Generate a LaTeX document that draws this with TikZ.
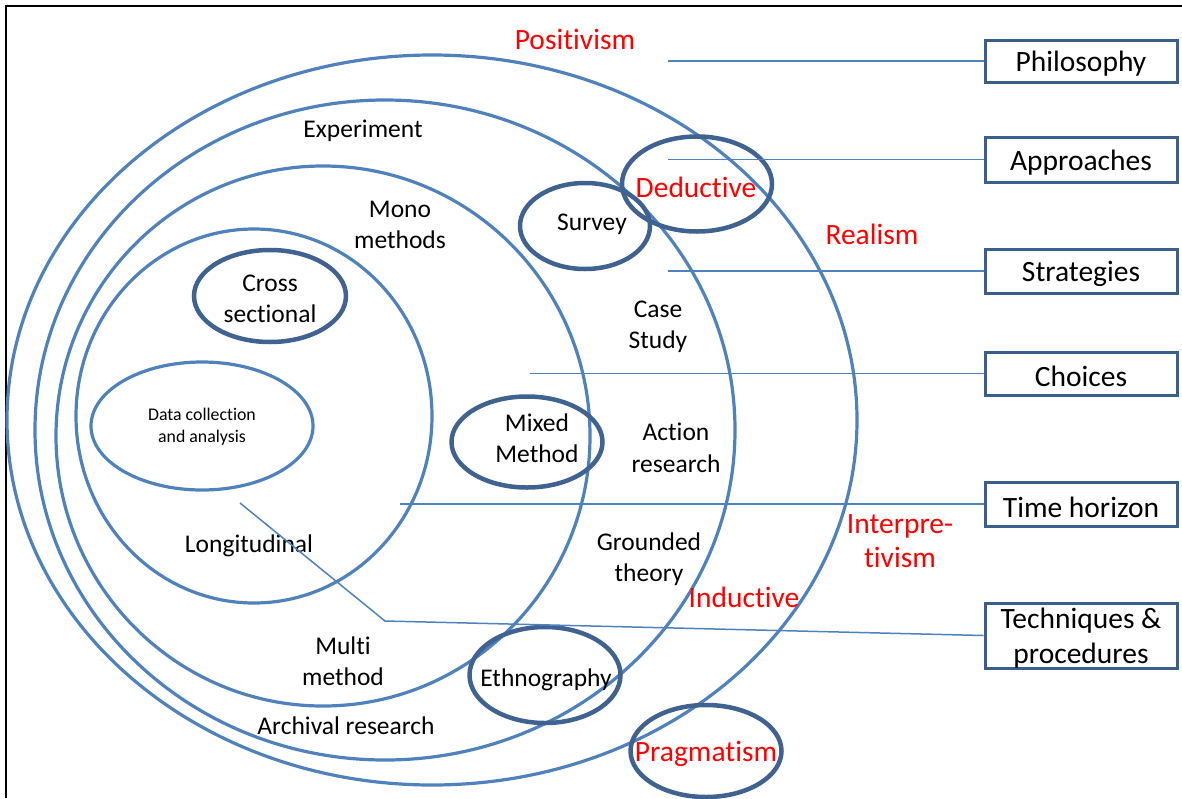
\documentclass[tikz,border=0pt]{standalone}
\usepackage{fontspec}
\setmainfont{Carlito}[Ligatures={NoCommon}]
\usetikzlibrary{shapes.geometric}
\definecolor{ringblue}{HTML}{4F81BD}
\definecolor{ovalblue}{HTML}{3F6291}
\definecolor{boxblue}{HTML}{3A5F8C}
\begin{document}
\begin{tikzpicture}[x=1pt,y=-1pt,
  ring/.style={ellipse, draw=ringblue, line width=3.2pt, inner sep=0pt},
  oval/.style={ellipse, draw=ovalblue, line width=4.5pt, inner sep=0pt},
  lbl/.style={align=center, inner sep=0pt, yshift=-2pt, font=\fontsize{25.5}{31.5}\selectfont},
  small/.style={align=center, inner sep=0pt, yshift=-1pt, font=\fontsize{17.8}{22}\selectfont},
  redlbl/.style={align=center, inner sep=0pt, yshift=-2pt, text=red, font=\fontsize{29.5}{34}\selectfont},
  catbox/.style={draw=boxblue, line width=3pt, minimum width=192pt, align=center,
    inner sep=0pt, font=\fontsize{29.5}{35}\selectfont},
  boxtext/.style={align=center, inner sep=0pt, yshift=-3pt, font=\fontsize{29.5}{35}\selectfont},
  link/.style={draw=ringblue, line width=1.5pt}]
\useasboundingbox (0,0) rectangle (1182,798);

% frame
\draw[line width=2.4pt] (6,798) -- (6,6) -- (1182,6);

% nested layers of the onion
\node[ring, minimum width=850pt, minimum height=730pt] (layerA) at (432,420) {};
\node[ring, minimum width=700pt, minimum height=660pt] (layerB) at (385,430) {};
\node[ring, minimum width=534pt, minimum height=540pt] (layerC) at (323,436) {};
\node[ring, minimum width=356pt, minimum height=374pt] (layerD) at (254,416) {};
\node[ring, minimum width=222pt, minimum height=128pt] (core) at (202,426) {};

% highlighted choices
\node[oval, minimum width=152pt, minimum height=92pt] (crossoval) at (270,296) {};
\node[oval, minimum width=130pt, minimum height=86pt] (surveyoval) at (585,226) {};
\node[oval, minimum width=150pt, minimum height=95pt] (deductoval) at (697,184) {};
\node[oval, minimum width=151pt, minimum height=91pt] (mixedoval) at (527,442) {};
\node[oval, minimum width=151pt, minimum height=96pt] (ethnooval) at (545,675) {};
\node[oval, minimum width=151pt, minimum height=92pt] (pragoval) at (706,751) {};

% labels
\node[redlbl] (positivism) at (575,37) {Positivism};
\node[lbl] (experiment) at (363,129) {Experiment};
\node[lbl] (mono) at (400,223) {Mono\\methods};
\node[lbl] (survey) at (592,222) {Survey};
\node[redlbl] (deductive) at (696,185) {Deductive};
\node[redlbl] (realism) at (872,232) {Realism};
\node[lbl] (cross) at (270,297) {Cross\\sectional};
\node[lbl] (casestudy) at (658,325) {Case\\Study};
\node[small] (datacoll) at (202,426) {Data collection\\and analysis};
\node[lbl] (mixed) at (537,436) {Mixed\\Method};
\node[lbl] (action) at (676,446) {Action\\research};
\node[redlbl] (interp) at (900,539) {Interpre-\\tivism};
\node[lbl] (longit) at (249,544) {Longitudinal};
\node[lbl] (grounded) at (649,557) {Grounded\\theory};
\node[redlbl] (inductive) at (744,595) {Inductive};
\node[lbl] (multi) at (343,659) {Multi\\method};
\node[lbl] (ethno) at (546,678) {Ethnography};
\node[lbl] (archival) at (346,724) {Archival research};
\node[redlbl] (pragmatism) at (706,752) {Pragmatism};

% category boxes
\node[catbox, minimum height=42pt] (philosophy) at (1081,61) {};
\node[catbox, minimum height=45pt] (approaches) at (1081,159.5) {};
\node[catbox, minimum height=44pt] (strategies) at (1081,271) {};
\node[catbox, minimum height=43pt] (choices) at (1081,373.5) {};
\node[catbox, minimum height=44pt] (timehor) at (1081,504) {};
\node[catbox, minimum height=65pt] (techniques) at (1081,635.5) {};
\node[boxtext] (philosophyT) at (philosophy.center) {Philosophy};
\node[boxtext] (approachesT) at (approaches.center) {Approaches};
\node[boxtext] (strategiesT) at (strategies.center) {Strategies};
\node[boxtext] (choicesT) at (choices.center) {Choices};
\node[boxtext] (timehorT) at (timehor.center) {Time horizon};
\node[boxtext] (techniquesT) at (techniques.center) {Techniques \&\\procedures};

% leader lines
\coordinate (pPhil) at (668,61);
\coordinate (pAppr) at (668,159.5);
\coordinate (pStra) at (668,271);
\coordinate (pChoi) at (530,373.5);
\coordinate (pTime) at (400,504);
\coordinate (pTech) at (240,503);
\coordinate (bendTech) at (385,621);
\draw[link] (pPhil) -- (philosophy.west);
\draw[link] (pAppr) -- (approaches.west);
\draw[link] (pStra) -- (strategies.west);
\draw[link] (pChoi) -- (choices.west);
\draw[link] (pTime) -- (timehor.west);
\draw[link] (pTech) -- (bendTech) -- (techniques.west);
\end{tikzpicture}
\end{document}
